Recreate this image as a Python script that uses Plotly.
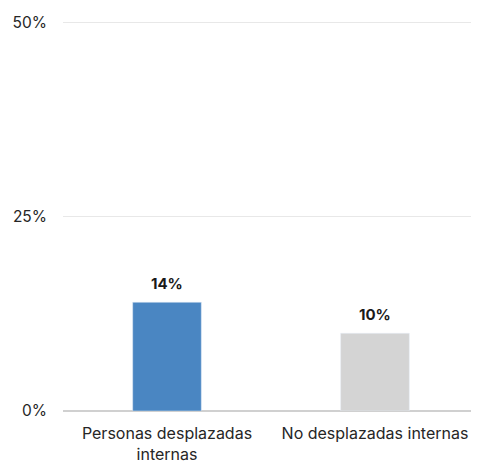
import plotly.graph_objects as go

categories = ["Personas desplazadas<br>internas", "No desplazadas internas"]
values = [14, 10]
labels = ["14%", "10%"]
colors = ["#4a86c2", "#d4d4d4"]
tick_vals = [0, 25, 50]
tick_text = ["0%", "25%", "50%"]

fig = go.Figure(go.Bar(
    x=categories, y=values, marker_color=colors, width=0.33,
))
for cat, val, lab in zip(categories, values, labels):
    fig.add_annotation(x=cat, y=val, text=lab, showarrow=False, yanchor="bottom",
                       yshift=7, font=dict(family="Inter", size=15, color="#1a1a1a", weight="bold"))
fig.update_layout(
    width=471, height=456, margin=dict(l=55, r=0, t=13, b=48),
    plot_bgcolor="white", paper_bgcolor="white", showlegend=False,
    font=dict(family="Inter", size=15, color="#262626"),
)
fig.update_yaxes(range=[0, 50.2], tickvals=tick_vals, ticktext=tick_text,
                 showgrid=True, gridcolor="#e8e8e8", zeroline=True,
                 zerolinecolor="#d0d0d0", ticks="", ticklabelstandoff=15,
                 tickfont=dict(size=15.5))
fig.update_xaxes(showline=False, ticks="", ticklabelstandoff=11,
                 tickfont=dict(size=16, color="#262626"))
fig.write_html("out.html")
